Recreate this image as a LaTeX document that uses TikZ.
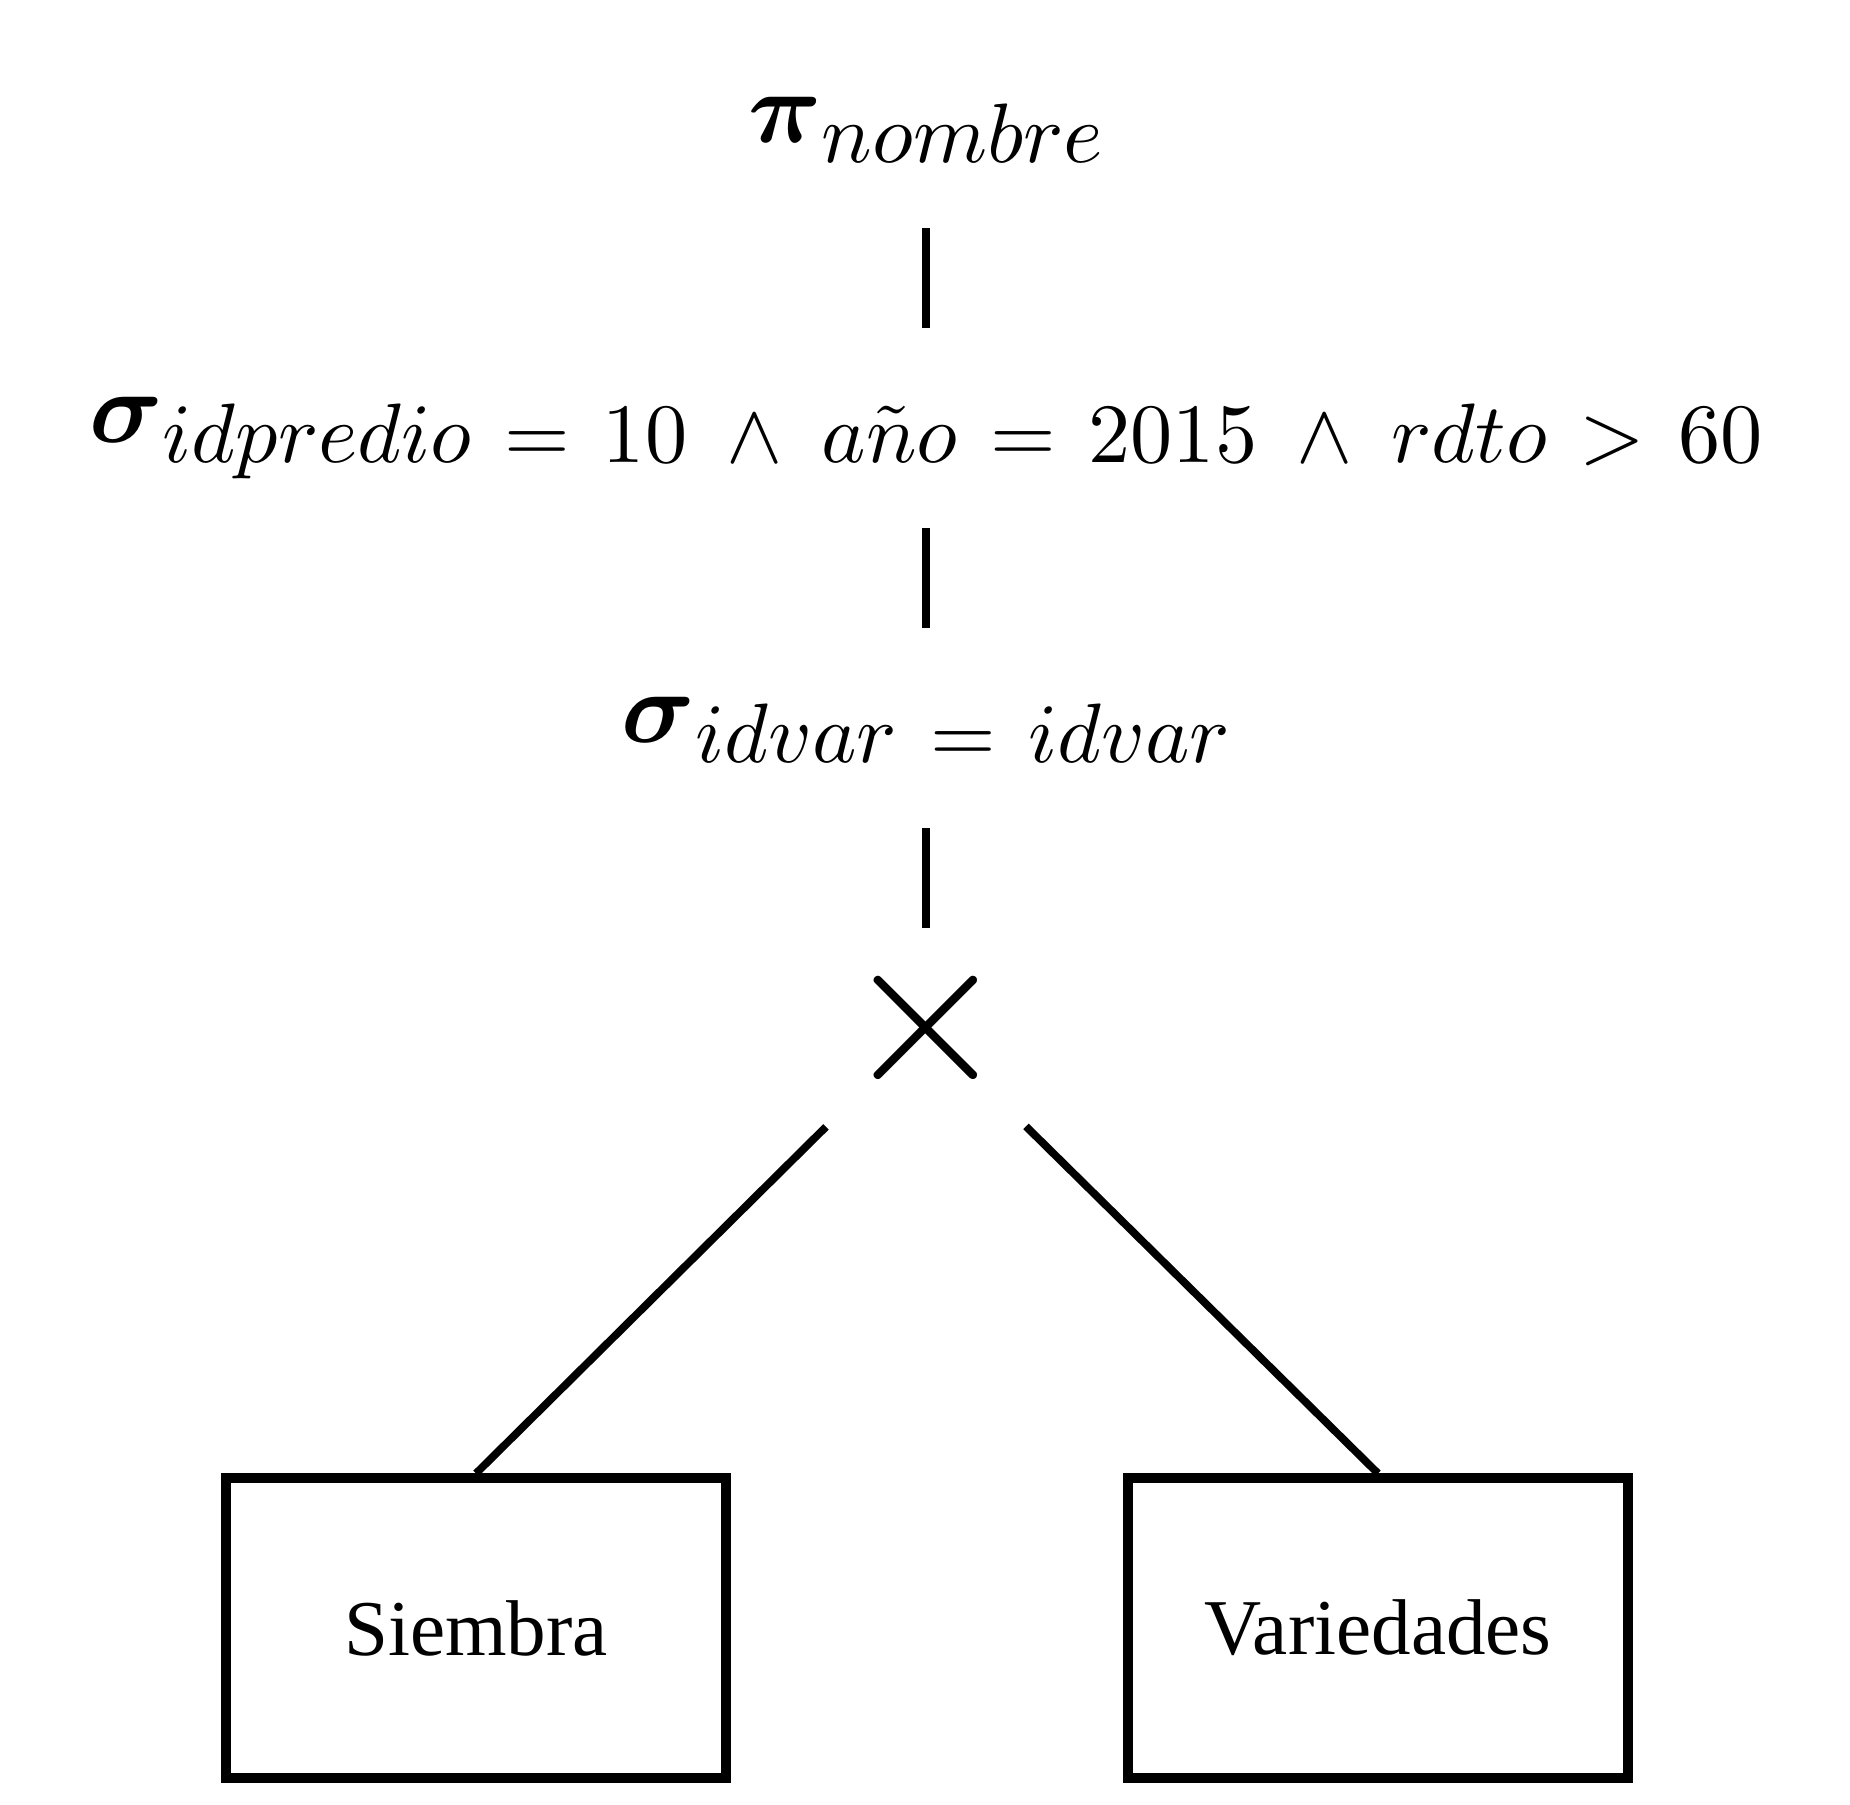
\RequirePackage{fix-cm}
\documentclass[tikz,border=0pt]{standalone}
\usepackage{amsmath}
\usepackage{amssymb}
\usepackage[no-math]{fontspec}
\usepackage{tikz}
\usetikzlibrary{positioning}
\DeclareFontShape{OML}{cmm}{m}{it}{<->cmmi10}{}
\DeclareFontShape{OT1}{cmr}{m}{n}{<->cmr10}{}
\newfontfamily\relfont{Liberation Serif}
\newcommand{\opname}[2]{{\fontsize{29}{30}\selectfont$\boldsymbol{#1}$}\raisebox{-5.5pt}{\fontsize{24}{26}\selectfont$\thickmuskip=7mu\medmuskip=8.3mu #2$}}

\begin{document}
\begin{tikzpicture}[node distance=3cm,on grid,
        op/.style={inner sep=0pt,outer sep=0pt,text height=1.15cm,text depth=0.85cm},
        prod/.style={inner sep=0pt,outer sep=0pt,minimum size=2cm,font=\fontsize{61}{63}\selectfont},
        rel/.style={draw,line width=2.6pt,minimum width=5cm,minimum height=3cm,font=\relfont\fontsize{22.5}{27}\selectfont},
        every edge/.style={draw,line width=2.2pt}]
        \useasboundingbox (0,0) rectangle (18.5,-18.05);
        \node[op] (proj) at (9.26,-1.28) {\opname{\pi}{nombre}};
        \node[op] (sel1) [below=of proj] {\opname{\sigma}{idpredio = 10 \wedge a\tilde{n}o = 2015 \wedge rdto > 60}};
        \node[op] (sel2) [below=of sel1] {\opname{\sigma}{idvar = idvar}};
        \node[prod] (prod) [below=of sel2] {$\times$};
        \node[rel] (siembra) [below left=6cm and 4.5cm of prod] {Siembra};
        \node[rel] (variedades) [below right=6cm and 4.52cm of prod] {Variedades};

        \path (proj) edge (sel1)
              (sel1) edge (sel2)
              (sel2) edge (prod)
              (prod) edge (siembra.north)
              (prod) edge (variedades.north);
      \end{tikzpicture}
\end{document}
